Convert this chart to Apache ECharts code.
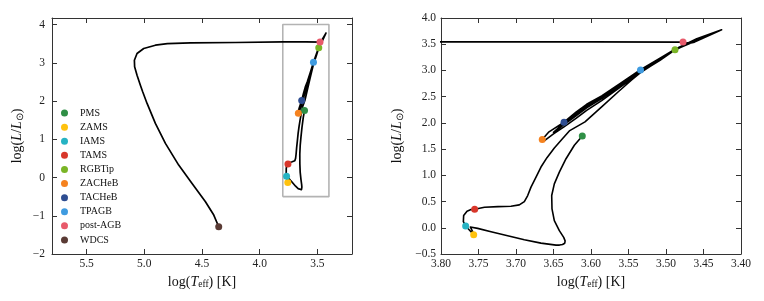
<!DOCTYPE html>
<html><head><meta charset="utf-8">
<script src="https://cdn.jsdelivr.net/npm/echarts@6/dist/echarts.min.js"></script>
<style>html,body{margin:0;padding:0;background:#fff}#c{width:764px;height:301px}</style>
</head><body><div id="c"></div>
<script>
// ---- data ----
const trackLogTeff = [
3.6116,3.6222,3.6333,3.6422,3.6489,3.6524,3.6520,3.6489,3.6422,3.6364,3.6345,3.6350,3.6380,3.6420,3.6467,3.6667,3.6889,3.7111,3.7333,3.7511,3.7609,3.7578,3.7564,
3.7622,3.7671,3.7702,3.7698,3.7653,3.7600,3.7551,
3.7420,3.7240,3.7067,3.6956,3.6889,3.6844,3.6800,3.6733,3.6667,3.6587,3.6489,3.6378,3.6289,3.6080,3.5858,3.5636,3.5458,3.5340,3.5100,3.4880,
3.5080,3.5340,3.5600,3.5858,3.6058,3.6200,3.6303,3.6360,3.6500,3.6620,3.6650,
3.6665,3.6560,3.6360,
3.6200,3.6058,3.5858,3.5600,3.5340,3.5080,3.4880,3.4590,3.4258,
3.4590,3.4880,3.5080,3.5340,3.5600,3.5858,3.6058,3.6200,3.6360,3.6500,
3.6500,3.6360,3.6200,3.6058,3.5858,3.5600,3.5340,3.5080,3.4880,3.4590,3.4258,
3.4450,3.4620,3.4700,3.4773,
3.6000,3.8000,4.2100,4.6000,4.8000,4.9040,5.0050,5.0630,5.0860,5.0840,5.0630,5.0340,5.0140,4.9760,4.9040,4.8170,4.7020,4.5860,4.4700,4.3980,4.3550
];
const trackLogL = [
1.752,1.573,1.317,1.062,0.838,0.615,0.360,0.136,-0.055,-0.183,-0.250,-0.295,-0.320,-0.330,-0.331,-0.292,-0.228,-0.151,-0.075,-0.011,0.015,-0.075,-0.132,
-0.043,0.034,0.117,0.232,0.315,0.347,0.353,
0.391,0.404,0.411,0.436,0.500,0.615,0.775,0.966,1.158,1.337,1.522,1.701,1.847,2.019,2.307,2.594,2.818,2.960,3.180,3.393,
3.195,2.965,2.690,2.425,2.240,2.085,1.980,1.925,1.790,1.660,1.682,
1.720,1.830,2.013,
2.205,2.355,2.515,2.760,3.015,3.235,3.405,3.605,3.776,
3.585,3.390,3.215,2.990,2.725,2.465,2.285,2.135,1.965,1.820,
1.850,2.000,2.170,2.320,2.490,2.745,3.000,3.225,3.395,3.570,3.776,
3.650,3.540,3.515,3.540,
3.545,3.545,3.530,3.520,3.500,3.459,3.372,3.242,3.067,2.893,2.676,2.414,2.240,1.936,1.414,0.891,0.324,-0.154,-0.634,-0.982,-1.287
];
const stageNames = ['PMS','ZAMS','IAMS','TAMS','RGBTip','ZACHeB','TACHeB','TPAGB','post-AGB','WDCS'];
const stageLogTeff = [3.6116,3.7564,3.7671,3.7551,3.4880,3.6650,3.6360,3.5340,3.4773,4.3550];
const stageLogL = [1.752,-0.132,0.034,0.353,3.393,1.682,2.013,3.010,3.540,-1.287];

const leftXTicks = [5.5,5.0,4.5,4.0,3.5];
const leftXTickLabels = ['5.5','5.0','4.5','4.0','3.5'];
const leftYTicks = [-2,-1,0,1,2,3,4];
const leftYTickLabels = ['\u22122','\u22121','0','1','2','3','4'];
const rightXTicks = [3.80,3.75,3.70,3.65,3.60,3.55,3.50,3.45,3.40];
const rightXTickLabels = ['3.80','3.75','3.70','3.65','3.60','3.55','3.50','3.45','3.40'];
const rightYTicks = [-0.5,0,0.5,1,1.5,2,2.5,3,3.5,4];
const rightYTickLabels = ['\u22120.5','0.0','0.5','1.0','1.5','2.0','2.5','3.0','3.5','4.0'];

const leftXRange = [3.2,5.8];
const leftYRange = [-2,4.17];
const rightXRange = [3.40,3.80];
const rightYRange = [-0.5,4.0];

// ---- styles ----
const stageColors = ['#2f8f46','#ffc20e','#26b3c3','#d8372b','#7ab526','#f5821f','#2e4d91','#3f9be0','#e85a6b','#5a3b35'];
const SERIF = 'Liberation Serif, Times New Roman, serif';
const frame = {color:'#333', width:1};

const track = trackLogTeff.map((t,i)=>[t,trackLogL[i]]);
const box = [[rightXRange[1],rightYRange[0]],[rightXRange[1],rightYRange[1]],[rightXRange[0],rightYRange[1]],[rightXRange[0],rightYRange[0]],[rightXRange[1],rightYRange[0]]];

function fmt(ticks, labels){
  return function(v){ const i = ticks.findIndex(t=>Math.abs(t-v)<1e-6); return i>=0 ? labels[i] : ''; };
}
const nameRich = {
  r:{fontFamily:SERIF,fontSize:14,color:'#111',lineHeight:16},
  i:{fontFamily:SERIF,fontSize:14,fontStyle:'italic',color:'#111',lineHeight:16},
  s:{fontFamily:SERIF,fontSize:9.5,color:'#111',lineHeight:9.5,verticalAlign:'bottom'}
};
const xName = '{r|log(}{i|T}{s|eff}{r|) [K]}';
const yName = '{r|log(}{i|L}{r|/}{i|L}{s|\u2299}{r|)}';

function xAx(grid, range, ticks, labels, pos, nameGap){
  const main = pos==='bottom';
  return {gridIndex:grid, type:'value', min:range[0], max:range[1], inverse:true, position:pos,
    axisLine:{show:true,onZero:false,lineStyle:frame},
    axisTick:{show:true,inside:true,length:5,customValues:ticks,lineStyle:frame},
    axisLabel:{show:main,customValues:ticks,formatter:fmt(ticks,labels),margin:4,fontFamily:SERIF,fontSize:11.5,color:'#222'},
    splitLine:{show:false},
    name: main ? xName : '', nameLocation:'middle', nameGap:nameGap,
    nameTextStyle:{rich:nameRich}};
}
function yAx(grid, range, ticks, labels, pos, nameGap, margin){
  const main = pos==='left';
  return {gridIndex:grid, type:'value', min:range[0], max:range[1], position:pos,
    axisLine:{show:true,onZero:false,lineStyle:frame},
    axisTick:{show:true,inside:true,length:5,customValues:ticks,lineStyle:frame},
    axisLabel:{show:main,customValues:ticks,formatter:fmt(ticks,labels),margin:margin,fontFamily:SERIF,fontSize:11.5,color:'#222'},
    splitLine:{show:false},
    name: main ? yName : '', nameLocation:'middle', nameGap:nameGap, nameRotate:90,
    nameTextStyle:{rich:nameRich}};
}

const series = [
  {type:'line', xAxisIndex:0, yAxisIndex:0, data:box, showSymbol:false, symbol:'none', lineStyle:{color:'#b3b3b3',width:1.6}, z:1, silent:true},
  {type:'line', xAxisIndex:0, yAxisIndex:0, data:track, showSymbol:false, symbol:'none', lineStyle:{color:'#000',width:1.7,join:'round'}, z:2, silent:true},
  {type:'line', xAxisIndex:2, yAxisIndex:2, data:track, showSymbol:false, symbol:'none', clip:true, lineStyle:{color:'#000',width:1.6,join:'round'}, z:2, silent:true}
];
stageNames.forEach((n,i)=>{
  [[0,0],[2,2]].forEach(([xa,ya])=>{
    series.push({type:'scatter', name:n, xAxisIndex:xa, yAxisIndex:ya, data:[[stageLogTeff[i],stageLogL[i]]],
      symbol:'circle', symbolSize:7, itemStyle:{color:stageColors[i],opacity:1}, z:5, silent:true});
  });
});

const chart = echarts.init(document.getElementById('c'), null, {renderer:'canvas'});
chart.setOption({
  animation:false,
  backgroundColor:'#fff',
  grid:[{left:52,top:18,width:300,height:236},{left:441,top:18,width:300,height:236}],
  xAxis:[xAx(0,leftXRange,leftXTicks,leftXTickLabels,'bottom',14), xAx(0,leftXRange,leftXTicks,leftXTickLabels,'top',14),
         xAx(1,rightXRange,rightXTicks,rightXTickLabels,'bottom',14), xAx(1,rightXRange,rightXTicks,rightXTickLabels,'top',14)],
  yAxis:[yAx(0,leftYRange,leftYTicks,leftYTickLabels,'left',27,7), yAx(0,leftYRange,leftYTicks,leftYTickLabels,'right',27,7),
         yAx(1,rightYRange,rightYTicks,rightYTickLabels,'left',36,5), yAx(1,rightYRange,rightYTicks,rightYTickLabels,'right',36,5)],
  legend:{data:stageNames, orient:'vertical', left:61, top:106, padding:0, itemWidth:21, itemHeight:7, itemGap:0, icon:'circle',
    selectedMode:false, textStyle:{fontFamily:SERIF,fontSize:10,color:'#111',lineHeight:14.1}},
  series:series
});
</script></body></html>
